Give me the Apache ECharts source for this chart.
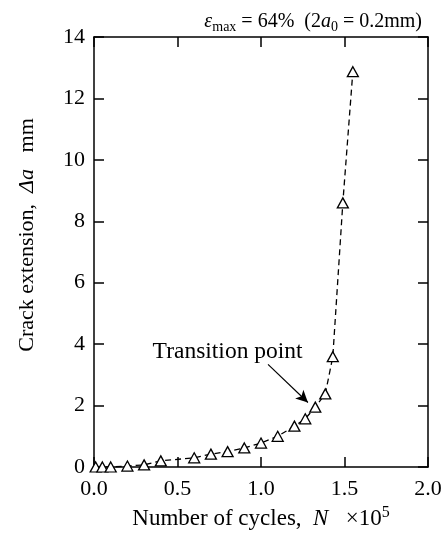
<!DOCTYPE html>
<html><head><meta charset="utf-8">
<script src="https://cdn.jsdelivr.net/npm/echarts@6/dist/echarts.min.js"></script>
<style>html,body{margin:0;padding:0;background:#fff}#c{width:446px;height:534px}</style>
</head><body><div id="c"></div>
<script>
var cycles = [0.01, 0.05, 0.1, 0.2, 0.3, 0.4, 0.6, 0.7, 0.8, 0.9, 1.0, 1.1, 1.2, 1.265, 1.325, 1.385, 1.43, 1.49, 1.55];
var extension = [0, 0, 0, 0.03, 0.07, 0.2, 0.3, 0.42, 0.5, 0.62, 0.78, 1.0, 1.33, 1.57, 1.95, 2.38, 3.59, 8.6, 12.87];
var xTicks = [0, 0.5, 1.0, 1.5, 2.0];
var yTicks = [0, 2, 4, 6, 8, 10, 12, 14];
var arrowFrom = [1.042, 3.34];
var arrowTo = [1.281, 2.10];
var labelAt = [0.80, 3.76];

var F = '"Liberation Serif", "Times New Roman", serif';
var pts = cycles.map(function (x, i) { return [x, extension[i]]; });
function axisLine() { return { show: true, onZero: false, lineStyle: { color: '#000', width: 1.5 } }; }
var tick = { show: true, inside: true, length: 10, lineStyle: { color: '#000', width: 1.5 } };

var chart = echarts.init(document.getElementById('c'), null, { renderer: 'canvas' });
chart.setOption({
  animation: false,
  backgroundColor: '#fff',
  title: {
    text: '{i|ε}{sub|max}{n| = 64%  (2}{i|a}{sub|0}{n| = 0.2mm)}',
    right: 19, top: 5,
    textStyle: {
      fontWeight: 'normal',
      rich: {
        n: { fontFamily: F, fontSize: 20, fontWeight: 'normal', color: '#000' },
        i: { fontFamily: F, fontSize: 20, fontWeight: 'normal', fontStyle: 'italic', color: '#000' },
        sub: { fontFamily: F, fontSize: 14, fontWeight: 'normal', color: '#000', padding: [10, 0, 0, 0] }
      }
    }
  },
  grid: { left: 94, right: 18, top: 37, bottom: 67, outerBoundsMode: 'none', containLabel: false },
  xAxis: [{
    type: 'value', min: xTicks[0], max: xTicks[xTicks.length - 1], interval: 0.5,
    axisLine: axisLine(), axisTick: tick, splitLine: { show: false },
    axisLabel: { color: '#000', fontFamily: F, fontSize: 22, margin: 11, formatter: function (v) { return v.toFixed(1); } },
    name: '{n|Number of cycles,  }{i|N}{n|   ×10}{sup|5}',
    nameLocation: 'middle', nameGap: 37,
    nameTextStyle: {
      rich: {
        n: { fontFamily: F, fontSize: 23, color: '#000' },
        i: { fontFamily: F, fontSize: 23, fontStyle: 'italic', color: '#000' },
        sup: { fontFamily: F, fontSize: 16, color: '#000', padding: [0, 0, 12, 0] }
      }
    }
  }, {
    type: 'value', position: 'top', min: xTicks[0], max: xTicks[xTicks.length - 1], interval: 0.5,
    axisLine: axisLine(), axisTick: tick, axisLabel: { show: false }, splitLine: { show: false }
  }],
  yAxis: [{
    type: 'value', min: yTicks[0], max: yTicks[yTicks.length - 1], interval: 2,
    axisLine: axisLine(), axisTick: tick, splitLine: { show: false },
    axisLabel: { color: '#000', fontFamily: F, fontSize: 22, margin: 9 },
    name: '{n|Crack extension,  }{i|Δa}{n|   mm}',
    nameLocation: 'middle', nameGap: 56, nameRotate: 90,
    nameTextStyle: {
      padding: [0, 0, 0, 34],
      rich: {
        n: { fontFamily: F, fontSize: 22, color: '#000' },
        i: { fontFamily: F, fontSize: 22, fontStyle: 'italic', color: '#000' }
      }
    }
  }, {
    type: 'value', position: 'right', min: yTicks[0], max: yTicks[yTicks.length - 1], interval: 2,
    axisLine: axisLine(), axisTick: tick, axisLabel: { show: false }, splitLine: { show: false }
  }],
  series: [{
    type: 'line',
    data: pts,
    xAxisIndex: 0, yAxisIndex: 0,
    symbol: 'triangle', symbolSize: [11, 10],
    itemStyle: { color: '#fff', borderColor: '#000', borderWidth: 1.3 },
    lineStyle: { color: '#000', width: 1.3, type: [6, 4] },
    z: 3,
    markLine: {
      silent: true, animation: false,
      symbol: ['none', 'arrow'], symbolSize: [9, 12],
      lineStyle: { color: '#000', width: 1.2, type: 'solid' },
      label: { show: false },
      data: [[{ coord: arrowFrom }, { coord: arrowTo }]]
    },
    markPoint: {
      silent: true, animation: false,
      data: [{
        coord: labelAt, symbol: 'rect', symbolSize: 1,
        itemStyle: { color: 'rgba(0,0,0,0)' },
        label: { show: true, position: 'inside', formatter: 'Transition point', color: '#000', fontFamily: F, fontSize: 23.5 }
      }]
    }
  }]
});
</script>
</body></html>
